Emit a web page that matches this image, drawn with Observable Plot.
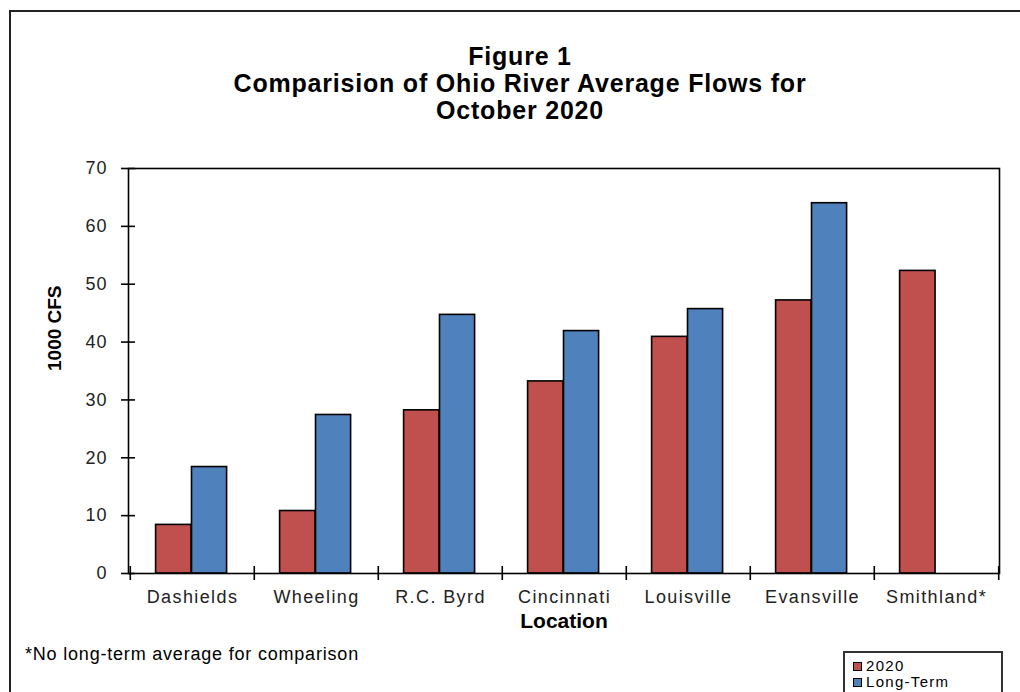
<!DOCTYPE html>
<html>
<head>
<meta charset="utf-8">
<script src="https://cdn.jsdelivr.net/npm/d3@7"></script>
<script src="https://cdn.jsdelivr.net/npm/@observablehq/plot@0.6"></script>
<style>
  html, body { margin: 0; padding: 0; background: #fff; }
  #wrap { position: relative; width: 1020px; height: 692px; overflow: hidden; font-family: "Liberation Sans", Arial, sans-serif; }
  #wrap svg { position: absolute; left: 0; top: 0; }
  #border { position: absolute; left: 9px; top: 10px; width: 1100px; height: 800px; border: 2px solid #222; box-sizing: border-box; }
  #title { position: absolute; left: 0; width: 1040px; top: 43px; text-align: center; font-weight: bold; font-size: 25px; line-height: 27px; letter-spacing: 0.8px; color: #000; }
  #note { position: absolute; left: 25px; top: 644px; font-size: 18px; letter-spacing: 0.8px; color: #000; }
  #legend { position: absolute; left: 843px; top: 651px; width: 160px; height: 60px; border: 2px solid #333; box-sizing: border-box; background: #fff; font-size: 15px; letter-spacing: 1.3px; }
  .li { position: absolute; left: 8px; height: 16px; line-height: 16px; display: flex; align-items: center; }
  .sw { width: 7px; height: 7px; border: 1.5px solid #000; margin-right: 4px; }
</style>
</head>
<body>
<div id="wrap">
  <div id="border"></div>
  <div id="title">Figure 1<br>Comparision of Ohio River Average Flows for<br>October 2020</div>
  <div id="note">*No long-term average for comparison</div>
  <div id="legend"></div>
</div>
<script>
const locations = ["Dashields", "Wheeling", "R.C. Byrd", "Cincinnati", "Louisville", "Evansville", "Smithland*"];
const flow2020 = [8.4, 10.8, 28.2, 33.2, 40.9, 47.2, 52.3];
const flowLongTerm = [18.4, 27.4, 44.7, 41.9, 45.7, 64.0, null];
const seriesNames = ["2020", "Long-Term"];
const seriesColors = ["#C0504D", "#4F81BD"];
const yTicks = [0, 10, 20, 30, 40, 50, 60, 70];
const yLabel = "1000 CFS";
const xLabel = "Location";

const rows2020 = locations.map((l, i) => ({location: l, series: seriesNames[0], value: flow2020[i]}));
const rowsLT = locations.map((l, i) => ({location: l, series: seriesNames[1], value: flowLongTerm[i]})).filter(d => d.value != null);

const W = 1020, H = 692, mL = 128, mR = 21, mT = 168, mB = 119;
const bw = (W - mL - mR) / locations.length;
const plotH = H - mT - mB;
const font = "Liberation Sans, Arial, sans-serif";

const chart = Plot.plot({
  width: W, height: H,
  marginLeft: mL, marginRight: mR, marginTop: mT, marginBottom: mB,
  style: {fontFamily: font, background: "transparent", overflow: "visible"},
  x: {domain: locations, padding: 0, label: null},
  y: {domain: [0, 70], label: null},
  color: {domain: seriesNames, range: seriesColors},
  marks: [
    Plot.barY(rows2020, {x: "location", y: "value", fill: "series", stroke: "#000", strokeWidth: 1.6, insetLeft: 25.6, insetRight: bw - 61.5}),
    Plot.barY(rowsLT, {x: "location", y: "value", fill: "series", stroke: "#000", strokeWidth: 1.6, insetLeft: 61.5, insetRight: 27.4}),
    Plot.frame({stroke: "#000", strokeWidth: 1.6}),
    Plot.ruleY(yTicks, {y: d => d, insetLeft: -7, insetRight: (W - mL - mR) - 7, stroke: "#000", strokeWidth: 1.6}),
    Plot.ruleX(locations, {x: d => d, dx: -bw / 2, insetTop: plotH - 7, insetBottom: -7, stroke: "#000", strokeWidth: 1.6}),
    Plot.ruleX(locations.slice(-1), {x: d => d, dx: bw / 2, insetTop: plotH - 7, insetBottom: -7, stroke: "#000", strokeWidth: 1.6}),
    Plot.axisY({ticks: yTicks, tickSize: 0, tickPadding: 21, fontSize: 18, fill: "#222", label: null}),
    Plot.axisX({tickSize: 0, tickPadding: 17, fontSize: 18, fill: "#222", label: null}),
    Plot.text([xLabel], {text: d => d, frameAnchor: "bottom", dy: 54, fontSize: 21, fontWeight: "bold", fill: "#000"}),
    Plot.text([yLabel], {text: d => d, frameAnchor: "left", dx: -74, rotate: -90, fontSize: 19, fontWeight: "bold", fill: "#000"})
  ]
});
document.getElementById("wrap").appendChild(chart);
chart.querySelectorAll("g[aria-label='x-axis tick label'] text").forEach(t => t.setAttribute("letter-spacing", "1.4"));
chart.querySelectorAll("g[aria-label='y-axis tick label'] text").forEach(t => t.setAttribute("letter-spacing", "1"));

const leg = document.getElementById("legend");
seriesNames.forEach((s, i) => {
  const d = document.createElement("div");
  d.className = "li";
  d.style.top = (5 + i * 16) + "px";
  d.innerHTML = `<span class="sw" style="background:${seriesColors[i]}"></span><span>${s}</span>`;
  leg.appendChild(d);
});
</script>
</body>
</html>
